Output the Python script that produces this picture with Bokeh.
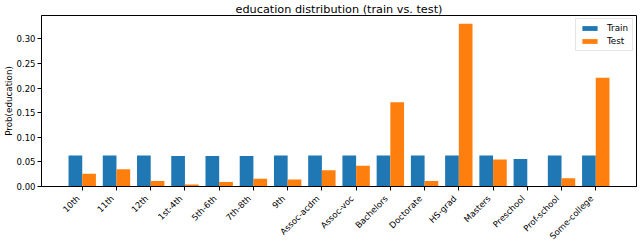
import numpy as np
from bokeh.plotting import figure
from bokeh.layouts import column
from bokeh.models import ColumnDataSource, FixedTicker, Range1d, Legend, LegendItem
from bokeh.transform import dodge
from bokeh.embed import file_html
from bokeh.resources import INLINE

categories = ["10th", "11th", "12th", "1st-4th", "5th-6th", "7th-8th", "9th",
              "Assoc-acdm", "Assoc-voc", "Bachelors", "Doctorate", "HS-grad",
              "Masters", "Preschool", "Prof-school", "Some-college"]
train = [0.063, 0.063, 0.063, 0.062, 0.062, 0.062, 0.063, 0.063,
         0.063, 0.063, 0.063, 0.063, 0.063, 0.056, 0.063, 0.063]
test = [0.026, 0.035, 0.011, 0.004, 0.009, 0.016, 0.014, 0.033,
        0.042, 0.171, 0.011, 0.331, 0.055, 0.0005, 0.017, 0.221]
y_ticks = [0.0, 0.05, 0.10, 0.15, 0.20, 0.25, 0.30]

FONT = "DejaVu Sans"
BLUE = "#1f77b4"
ORANGE = "#ff7f0e"
W = 640
LEFT = 40
RIGHT = 4
H_MAIN = 192
H_LABELS = 50

n = len(categories)
source = ColumnDataSource(dict(x=list(range(n)), name=categories, train=train, test=test))

ymax = max(test) * 1.05
xr = Range1d(-1.19, n - 1 + 1.19)
p = figure(width=W, height=H_MAIN, output_backend="svg", toolbar_location=None,
           x_range=xr, y_range=Range1d(0, ymax),
           title="education distribution (train vs. test)",
           min_border_left=LEFT, min_border_right=RIGHT, min_border_top=0, min_border_bottom=6)

p.title.text_font = FONT
p.title.text_font_size = "11.25px"
p.title.text_font_style = "normal"
p.title.text_color = "black"
p.title.align = "center"
p.title.standoff = 0
p.title.offset = 0

r1 = p.vbar(x=dodge("x", -0.2), top="train", width=0.4, source=source,
            fill_color=BLUE, line_color=None)
r2 = p.vbar(x=dodge("x", 0.2), top="test", width=0.4, source=source,
            fill_color=ORANGE, line_color=None)

legend = Legend(items=[LegendItem(label="Train", renderers=[r1]),
                       LegendItem(label="Test", renderers=[r2])],
                location="top_right")
legend.label_text_font = FONT
legend.label_text_font_size = "8.75px"
legend.label_text_color = "black"
legend.border_line_color = "#cccccc"
legend.border_line_width = 1
legend.glyph_width = 19
legend.glyph_height = 6
legend.label_standoff = 8
legend.label_height = 10
legend.spacing = 3
legend.padding = 4
legend.margin = 3
p.add_layout(legend)

p.xgrid.visible = False
p.ygrid.visible = False
p.outline_line_color = "black"
p.outline_line_width = 1

p.xaxis.ticker = FixedTicker(ticks=list(range(n)))
p.xaxis.major_label_text_color = None
p.yaxis.ticker = FixedTicker(ticks=y_ticks)
p.yaxis.major_label_overrides = {t: f"{t:.2f}" for t in y_ticks}
p.yaxis.axis_label = "Prob(education)"
p.yaxis.major_label_text_color = "black"

for ax in (p.xaxis[0], p.yaxis[0]):
    ax.major_label_text_font = FONT
    ax.major_label_text_font_size = "8.5px"
    ax.axis_label_text_font = FONT
    ax.axis_label_text_font_size = "8.75px"
    ax.axis_label_text_font_style = "normal"
    ax.axis_label_text_color = "black"
    ax.axis_line_color = "black"
    ax.major_tick_line_color = "black"
    ax.major_tick_out = 4
    ax.major_tick_in = 0
    ax.minor_tick_line_color = None
    ax.major_label_standoff = 2
    ax.axis_label_standoff = 0

# category tick labels, rotated 45 degrees, on the shared x scale
pl = figure(width=W, height=H_LABELS, output_backend="svg", toolbar_location=None,
            x_range=xr, y_range=Range1d(H_LABELS, 0),
            x_axis_type=None, y_axis_type=None,
            min_border_left=LEFT, min_border_right=RIGHT, min_border_top=0, min_border_bottom=0)
pl.outline_line_color = None
pl.xgrid.visible = False
pl.ygrid.visible = False
pl.text(x="x", y=4.5, text="name", source=source, angle=np.pi / 4,
        text_align="right", text_baseline="middle", x_offset=-4,
        text_font={"value": FONT}, text_font_size={"value": "8.5px"}, text_color="black")

layout = column(p, pl, spacing=0)
open("out.html", "w").write(file_html(layout, INLINE))
